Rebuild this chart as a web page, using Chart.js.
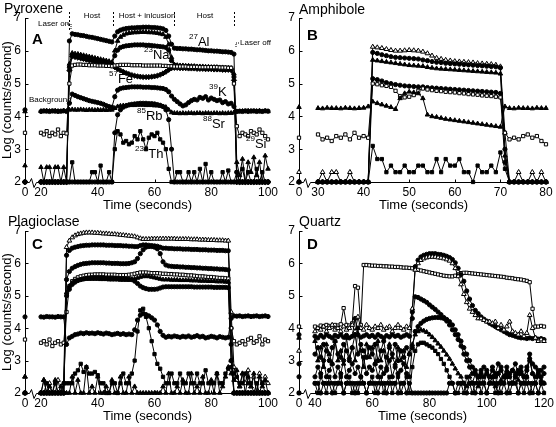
<!DOCTYPE html>
<html><head><meta charset="utf-8">
<script src="https://cdn.jsdelivr.net/npm/chart.js@4.4.1/dist/chart.umd.min.js"></script>
<style>
html,body{margin:0;padding:0;background:#fff;}
#wrap{position:relative;width:556px;height:427px;overflow:hidden;background:#fff;}
canvas{position:absolute;}
</style></head><body>
<div id="wrap">
<canvas id="cA" width="278" height="213" style="left:0;top:0;width:278px;height:213px"></canvas>
<canvas id="cB" width="278" height="213" style="left:278px;top:0;width:278px;height:213px"></canvas>
<canvas id="cC" width="278" height="214" style="left:0;top:213px;width:278px;height:214px"></canvas>
<canvas id="cD" width="278" height="214" style="left:278px;top:213px;width:278px;height:214px"></canvas>
</div>
<script>
// ---------- Panel A: Pyroxene ----------
const timesA = [0,20,21,22,23,24,25,26,27,28,29,30,31,32,33,34,35,36,37,38,39,40,41,42,43,44,45,46,47,48,49,50,51,52,53,54,55,56,57,58,59,60,61,62,63,64,65,66,67,68,69,70,71,72,73,74,75,76,77,78,79,80,81,82,83,84,85,86,87,88,89,90,91,92,93,94,95,96,97,98,99,100];
const ticksA = [20,40,60,80,100];
const A_Al = [2,
 2,2,2,2,2,2,2,2,2,2,
 6.3,6.52,6.5,6.49,6.47,6.46,6.44,6.42,6.41,6.39,
 6.37,6.35,6.33,6.31,6.29,6.27,6.45,6.58,6.63,6.66,
 6.68,6.69,6.7,6.7,6.71,6.71,6.72,6.72,6.72,6.71,
 6.71,6.7,6.69,6.67,6.62,6.45,6.2,6.08,6.07,6.07,
 6.06,6.06,6.05,6.05,6.04,6.03,6.03,6.02,6.01,6,
 6,5.99,5.99,5.98,5.97,5.97,5.96,5.95,5.9,2.3,
 2,2,2,2,2,2,2,2,2,2,
 2];
const A_Na2 = [2.5,
 2.45,2,2.45,2.45,2,2.45,2.45,2,2.45,2,
 5.6,5.93,5.91,5.9,5.88,5.86,5.84,5.82,5.8,5.78,
 5.76,5.74,5.72,5.7,5.68,5.65,6,6.3,6.42,6.48,
 6.52,6.54,6.55,6.56,6.56,6.57,6.57,6.57,6.56,6.56,
 6.55,6.54,6.52,6.5,6.42,6.2,5.8,5.58,5.56,5.55,
 5.55,5.54,5.54,5.53,5.53,5.52,5.52,5.52,5.51,5.51,
 5.5,5.5,5.5,5.49,5.49,5.48,5.48,5.47,5.3,2.6,
 2.2,2.7,2,2.6,2.3,2.75,2.2,2.6,2,2.8,
 2.4];
const A_Na = [2,
 2,2,2,2,2,2,2,2,2,2,
 5.5,5.88,5.86,5.85,5.83,5.81,5.79,5.77,5.75,5.73,
 5.71,5.69,5.67,5.65,5.63,5.6,5.85,6.02,6.1,6.13,
 6.15,6.16,6.17,6.18,6.18,6.18,6.18,6.17,6.17,6.16,
 6.15,6.14,6.13,6.12,6.1,6.02,5.7,5.56,5.54,5.53,
 5.53,5.52,5.52,5.51,5.51,5.5,5.5,5.5,5.49,5.49,
 5.48,5.48,5.47,5.47,5.46,5.46,5.45,5.45,5.2,2,
 2,2,2,2,2,2,2,2,2,2,
 2];
const A_Fe = [2,
 2,2,2,2,2,2,2,2,2,2,
 5.4,5.83,5.81,5.79,5.77,5.75,5.73,5.71,5.69,5.67,
 5.65,5.63,5.61,5.59,5.57,5.55,5.5,5.45,5.4,5.36,
 5.32,5.29,5.26,5.24,5.22,5.21,5.2,5.2,5.2,5.21,
 5.22,5.24,5.27,5.31,5.36,5.42,5.47,5.48,5.48,5.47,
 5.47,5.47,5.46,5.46,5.46,5.45,5.45,5.45,5.44,5.44,
 5.44,5.43,5.43,5.43,5.42,5.42,5.42,5.41,5.1,2,
 2,2,2,2,2,2,2,2,2,2,
 2];
const A_Si = [3.5,
 3.5,3.45,3.55,3.4,3.5,3.45,3.6,3.4,3.5,3.48,
 5,5.55,5.57,5.58,5.58,5.57,5.57,5.56,5.56,5.56,
 5.55,5.55,5.55,5.54,5.54,5.53,5.55,5.56,5.57,5.57,
 5.57,5.57,5.56,5.56,5.56,5.56,5.55,5.55,5.55,5.55,
 5.55,5.55,5.55,5.54,5.54,5.53,5.53,5.52,5.52,5.52,
 5.52,5.52,5.51,5.51,5.51,5.51,5.5,5.5,5.5,5.5,
 5.5,5.5,5.5,5.49,5.49,5.49,5.48,5.48,5,3.7,
 3.4,3.5,3.45,3.4,3.55,3.5,3.45,3.6,3.5,3.4,
 3.3];
const A_K = [4.2,
 4.15,4.17,4.16,4.15,4.17,4.16,4.15,4.16,4.17,4.15,
 4.4,4.68,4.64,4.6,4.57,4.54,4.51,4.48,4.46,4.44,
 4.42,4.4,4.37,4.33,4.3,4.28,4.6,4.8,4.85,4.87,
 4.88,4.89,4.9,4.9,4.9,4.9,4.89,4.89,4.89,4.88,
 4.88,4.87,4.86,4.85,4.82,4.75,4.62,4.52,4.45,4.38,
 4.32,4.35,4.42,4.48,4.52,4.5,4.58,4.55,4.6,4.5,
 4.56,4.52,4.48,4.5,4.42,4.45,4.38,4.4,4.3,4.15,
 4.16,4.15,4.17,4.15,4.16,4.17,4.15,4.16,4.15,4.17,
 4.16];
const A_Sr = [4.15,
 4.16,4.15,4.17,4.16,4.15,4.17,4.16,4.15,4.17,4.16,
 4.2,4.21,4.2,4.2,4.21,4.2,4.19,4.2,4.2,4.19,
 4.2,4.19,4.2,4.19,4.2,4.2,4.25,4.3,4.32,4.33,
 4.33,4.34,4.34,4.34,4.35,4.35,4.35,4.34,4.34,4.34,
 4.33,4.33,4.32,4.3,4.28,4.2,4.12,4.1,4.1,4.09,
 4.1,4.09,4.1,4.1,4.09,4.1,4.1,4.09,4.1,4.1,
 4.09,4.1,4.1,4.09,4.1,4.09,4.1,4.1,4.12,4.15,
 4.15,4.16,4.15,4.17,4.16,4.15,4.16,4.17,4.15,4.16,
 4.15];
const A_Rb = [2,
 2,2,2,2,2,2,2,2,2,2,
 2,2,2,2,2,2,2,2,2,2,
 2,2,2,2,2,2,3.5,4.05,4.2,4.28,
 4.32,4.35,4.37,4.38,4.39,4.4,4.4,4.4,4.39,4.39,
 4.38,4.36,4.34,4.3,4.2,3.9,3,2,2,2,
 2,2,2,2,2,2,2,2,2,2,
 2,2,2,2,2,2,2,2,2,2,
 2,2,2,2,2,2,2,2,2,2,
 2];
const A_Th = [2,
 2,2,2,2,2,2,2,2,2,2,
 2,2.6,2,2,2,2,2,2,2.3,2.3,
 2,2.5,2,2,2.3,2,3,3.55,3.45,3.2,
 3.25,3.15,3.2,3.4,3.3,3.55,3.3,3,3.35,3.45,
 3.4,3.5,3.3,3.2,3,2.4,2,2,2.3,2.3,
 2,2,2.3,2,2.3,2,2.4,2,2.55,2,
 2.3,2,2,2,2.3,2,2.35,2,2,2.3,
 2,2.4,2,2.3,2,2,2.4,2,2.3,2,
 2];

// ---------- Panel B: Amphibole ----------
const timesB = [0,30,31,32,33,34,35,36,37,38,39,40,41,42,43,44,45,46,47,48,49,50,51,52,53,54,55,56,57,58,59,60,61,62,63,64,65,66,67,68,69,70,71,72,73,74,75,76,77,78,79,80];
const ticksB = [30,40,50,60,70,80];
const B_top = [2.3,
 2,2.3,2,2.3,2.3,2,2,2.3,2,2,
 2,2,6.12,6.1,6.08,6.05,6.02,6,6,6.01,
 6.02,6.01,6,5.97,5.92,5.85,5.78,5.75,5.72,5.7,
 5.68,5.67,5.66,5.65,5.64,5.62,5.61,5.6,5.59,5.57,
 5.52,3.5,2,2,2.3,2,2,2.3,2,2.3,
 2];
const B_2 = [2,
 2,2,2,2,2,2,2,2,2,2,
 2,2,5.95,5.92,5.88,5.85,5.82,5.8,5.79,5.78,
 5.77,5.76,5.75,5.72,5.7,5.67,5.65,5.64,5.62,5.61,
 5.6,5.59,5.58,5.57,5.56,5.55,5.54,5.53,5.52,5.51,
 5.48,3,2,2,2,2,2,2,2,2,
 2];
const B_3 = [2,
 2,2,2,2,2,2,2,2,2,2,
 2,2,5.72,5.7,5.68,5.66,5.64,5.62,5.6,5.58,
 5.56,5.55,5.54,5.53,5.5,5.48,5.46,5.45,5.44,5.43,
 5.42,5.41,5.4,5.39,5.38,5.37,5.36,5.35,5.34,5.33,
 5.3,2.8,2,2,2,2,2,2,2,2,
 2];
const B_4 = [2,
 2,2,2,2,2,2,2,2,2,2,
 2,2,5.15,5.12,5.08,5.03,5,4.97,4.95,4.93,
 4.92,4.91,4.9,4.9,4.88,4.87,4.86,4.85,4.84,4.83,
 4.82,4.81,4.8,4.79,4.78,4.77,4.76,4.75,4.74,4.73,
 4.7,2.6,2,2,2,2,2,2,2,2,
 2];
const B_sq = [3.35,
 3.45,3.3,3.35,3.25,3.4,3.35,3.45,3.3,3.5,3.35,
 3.4,3.35,5,4.98,4.95,4.93,4.9,4.78,4.62,4.58,
 4.6,4.65,4.78,4.85,4.82,4.8,4.78,4.77,4.75,4.74,
 4.73,4.71,4.7,4.68,4.67,4.66,4.64,4.63,4.62,4.6,
 4.58,3.5,3.3,3.35,3.3,3.4,3.45,3.35,3.4,3.25,
 3.15];
const B_K = [4.28,
 4.25,4.24,4.26,4.25,4.25,4.24,4.26,4.25,4.24,4.25,
 4.26,4.3,4.45,4.4,4.36,4.32,4.28,4.22,4.55,4.7,
 4.75,4.73,4.7,4.55,4.05,4,3.98,3.95,3.92,3.9,
 3.88,3.86,3.84,3.82,3.8,3.78,3.76,3.74,3.72,3.7,
 3.68,4.3,4.25,4.24,4.26,4.25,4.25,4.24,4.26,4.25,
 4.25];
const B_Th = [2,
 2,2,2,2,2,2,2,2,2,2,
 2,2,3.1,2.7,2.7,2.3,2.5,2.3,2.3,2.5,
 2.3,2.3,2.5,2.5,2.3,2.3,2.7,2.3,2.7,2.5,
 2.5,2.7,2.3,2.3,2,2.5,2.3,2.3,2.5,2.3,
 2.9,2.4,2,2,2,2,2,2,2,2,
 2];

// ---------- Panel C: Plagioclase ----------
const timesC = [0,20,21,22,23,24,25,26,27,28,29,30,31,32,33,34,35,36,37,38,39,40,41,42,43,44,45,46,47,48,49,50,51,52,53,54,55,56,57,58,59,60,61,62,63,64,65,66,67,68,69,70,71,72,73,74,75,76,77,78,79,80,81,82,83,84,85,86,87,88,89,90,91,92,93,94,95,96,97,98,99,100];
const ticksC = [20,40,60,80,100];
const C_top = [2.5,
 2,2.4,2,2.3,2,2,2.4,2,2.3,6.5,
 6.7,6.8,6.86,6.9,6.92,6.94,6.95,6.95,6.95,6.94,
 6.94,6.93,6.92,6.92,6.91,6.9,6.9,6.89,6.88,6.87,
 6.86,6.85,6.84,6.83,6.8,6.77,6.75,6.75,6.75,6.76,
 6.76,6.76,6.76,6.76,6.76,6.76,6.76,6.76,6.75,6.75,
 6.75,6.75,6.75,6.74,6.74,6.74,6.73,6.73,6.73,6.72,
 6.72,6.72,6.71,6.71,6.71,6.7,6.7,4.5,2.8,2.4,
 2.2,2.6,2.3,2.7,2.2,2.5,2,2.6,2.3,2.5,
 2.3];
const C_2 = [2,
 2,2,2,2,2,2,2,2,2,6.25,
 6.4,6.47,6.5,6.52,6.54,6.55,6.56,6.56,6.57,6.57,
 6.57,6.57,6.57,6.56,6.56,6.56,6.55,6.55,6.55,6.54,
 6.54,6.53,6.53,6.52,6.52,6.55,6.57,6.57,6.56,6.55,
 6.54,6.53,6.5,6.47,6.47,6.46,6.46,6.45,6.45,6.45,
 6.44,6.44,6.44,6.43,6.43,6.43,6.42,6.42,6.42,6.41,
 6.41,6.41,6.4,6.4,6.4,6.39,6.39,4,2,2,
 2,2,2,2,2,2,2,2,2,2,
 2];
const C_3 = [2,
 2,2,2,2,2,2,2,2,2,5.5,
 5.75,5.85,5.9,5.94,5.97,5.99,6,6.01,6.02,6.02,
 6.02,6.02,6.02,6.01,6.01,6,6,6,5.99,5.99,
 5.99,6,6.02,6.05,6.15,6.3,6.42,6.5,6.52,6.52,
 6.5,6.45,6.3,6.05,5.95,5.92,5.91,5.9,5.9,5.89,
 5.89,5.88,5.88,5.87,5.87,5.86,5.86,5.85,5.85,5.84,
 5.84,5.83,5.83,5.82,5.82,5.81,5.8,3.5,2,2,
 2,2,2,2,2,2,2,2,2,2,
 2];
const C_sq = [3.65,
 3.55,3.6,3.5,3.65,3.45,3.55,3.6,3.5,3.55,4.5,
 5.3,5.45,5.52,5.57,5.6,5.62,5.64,5.65,5.65,5.66,
 5.66,5.66,5.66,5.65,5.65,5.65,5.65,5.64,5.64,5.64,
 5.64,5.65,5.66,5.68,5.7,5.72,5.72,5.72,5.71,5.7,
 5.7,5.7,5.69,5.68,5.68,5.67,5.67,5.66,5.66,5.65,
 5.65,5.64,5.63,5.63,5.62,5.61,5.6,5.6,5.59,5.58,
 5.58,5.57,5.56,5.55,5.55,5.54,5.53,4,3.6,3.5,
 3.55,3.6,3.5,3.65,3.7,3.55,3.6,3.75,3.5,3.65,
 3.6];
const C_5 = [2,
 2,2,2,2,2,2,2,2,2,5,
 5.2,5.35,5.42,5.47,5.5,5.52,5.54,5.55,5.56,5.56,
 5.56,5.56,5.56,5.55,5.55,5.55,5.54,5.54,5.53,5.53,
 5.52,5.51,5.5,5.45,5.38,5.3,5.25,5.22,5.2,5.2,
 5.2,5.21,5.24,5.27,5.28,5.28,5.28,5.28,5.28,5.28,
 5.28,5.28,5.28,5.28,5.27,5.27,5.27,5.27,5.27,5.27,
 5.27,5.26,5.26,5.26,5.26,5.26,5.25,3,2,2,
 2,2,2,2,2,2,2,2,2,2,
 2];
const C_6 = [2,
 2,2,2,2,2,2,2,2,2,5.1,
 5.3,5.4,5.45,5.48,5.5,5.51,5.52,5.52,5.52,5.52,
 5.52,5.51,5.51,5.51,5.5,5.5,5.5,5.5,5.49,5.49,
 5.49,5.49,5.5,5.52,5.55,5.58,5.6,5.6,5.6,5.58,
 5.56,5.54,5.52,5.5,5.5,5.5,5.49,5.49,5.49,5.48,
 5.48,5.48,5.48,5.47,5.47,5.47,5.46,5.46,5.46,5.45,
 5.45,5.45,5.44,5.44,5.44,5.43,5.43,3,2,2,
 2,2,2,2,2,2,2,2,2,2,
 2];
const C_bg = [4.35,
 4.35,4.34,4.36,4.35,4.35,4.34,4.36,4.35,4.35,3.5,
 3.7,3.75,3.8,3.82,3.85,3.83,3.86,3.84,3.85,3.83,
 3.86,3.84,3.82,3.85,3.83,3.8,3.82,3.84,3.81,3.83,
 3.8,3.82,3.8,3.95,4.25,4.4,4.45,4.42,4.38,4.32,
 4.25,4.1,3.9,3.78,3.72,3.75,3.73,3.76,3.74,3.72,
 3.75,3.73,3.76,3.72,3.74,3.77,3.73,3.75,3.7,3.72,
 3.75,3.73,3.7,3.74,3.72,3.7,3.72,4.3,4.38,4.37,
 4.38,4.36,4.37,4.38,4.36,4.37,4.38,4.36,4.37,4.38,
 4.36];
const C_peak = [2,
 2,2,2.3,2,2,2.3,2,2,2.3,2.3,
 2.3,2.3,2.6,2.7,2.9,2.65,2.8,2.6,2.6,2.65,
 2.55,2.3,2.3,2,2,2.3,2.3,2,2.3,2.6,
 2.3,2.3,2.6,3,3.9,4.55,4.6,4.35,4,3.6,
 3.2,2.9,2.75,2.5,2.3,2.3,2.6,2.3,2.3,2.6,
 2.3,2.3,2.6,2.3,2.3,2.6,2.3,2.3,2.7,2.3,
 2.3,2.3,2.6,2.3,2.3,2.6,2.75,2.8,2.6,2.5,
 2.3,2.3,2.6,2.3,2.3,2,2.3,2,2.3,2,
 2];
const C_low = [2.5,
 2,2.4,2,2.2,2,2.4,2,2.2,2,2,
 2,2.5,2,2.4,2,2,2.8,2,2.2,2,
 2.5,2,2,2.2,2,2.4,2,2,2.5,2,
 2,2.5,2,2.2,2,2,2,2,2,2,
 2,2,2,2.2,2,2.6,2,2,2.2,2,
 2.4,2,2,2.6,2,2.2,2,2.5,2,2,
 2.4,2,2.6,2,2.2,2.5,2.8,2.6,2.4,2.7,
 2.2,2.6,2,2.5,2.2,2.6,2,2.5,2.2,2.4,
 2];

// ---------- Panel D: Quartz ----------
const timesD = [0,40,41,42,43,44,45,46,47,48,49,50,51,52,53,54,55,56,57,58,59,60,61,62,63,64,65,66,67,68,69,70,71,72,73,74,75,76,77,78,79,80,81,82,83,84,85,86,87,88,89,90,91,92,93,94,95,96,97,98,99,100,101,102,103,104,105,106,107,108,109,110,111,112,113,114,115,116,117,118,119,120];
const ticksD = [40,60,80,100,120];
const D_Si = [4.05,
 4.05,4,4.08,4.05,4.1,4.07,4.05,4.1,4.08,4.12,
 4.62,4.1,4.08,4.15,5.3,5.25,4.1,5.95,5.95,5.94,
 5.93,5.93,5.92,5.92,5.91,5.91,5.9,5.9,5.89,5.89,
 5.88,5.87,5.87,5.86,5.85,5.82,5.8,5.78,5.76,5.74,
 5.72,5.7,5.68,5.66,5.64,5.62,5.61,5.6,5.6,5.62,
 5.66,5.7,5.71,5.71,5.7,5.69,5.68,5.67,5.66,5.65,
 5.64,5.63,5.62,5.61,5.6,5.59,5.58,5.56,5.55,5.54,
 5.52,5.51,5.5,5.48,5.46,5.42,4.6,4.05,4.05,4.07,
 4.05];
const D_pk1 = [3.8,
 3.75,3.7,3.78,3.72,3.8,3.75,3.7,3.78,3.74,3.8,
 3.72,3.78,3.7,3.75,4.3,3.8,3.72,3.76,3.8,3.74,
 3.78,3.72,3.8,3.75,3.7,3.77,3.73,3.8,3.75,3.78,
 3.72,3.76,3.8,3.75,4.5,5.9,6.1,6.2,6.25,6.28,
 6.3,6.3,6.3,6.28,6.27,6.25,6.22,6.18,6.12,6.02,
 5.85,5.65,5.45,5.15,4.9,4.7,4.55,4.45,4.35,4.28,
 4.22,4.15,4.1,4.05,4,3.95,3.9,3.85,3.8,3.78,
 3.75,3.72,3.7,3.7,3.68,3.7,3.68,3.7,3.66,3.68,
 3.65];
const D_pk2 = [3.3,
 3.9,4,3.95,4.05,3.9,4,4.1,3.95,4,3.9,
 4.05,3.95,4,4.1,3.9,4.35,4,3.95,4.1,4,
 3.95,4.05,4,4.1,3.95,4,4.05,3.9,4,4.1,
 4,3.95,4.05,4,4.6,5.8,6,6.1,6.15,6.18,
 6.2,6.2,6.2,6.18,6.17,6.15,6.12,6.08,6,5.85,
 5.6,5.35,5.05,4.8,4.6,4.5,4.4,4.3,4.3,4.25,
 4.2,4.2,4.15,4.2,4,4.1,3.95,4.05,4.2,3.9,
 3.85,3.8,3.9,3.75,3.85,4.4,4,3.7,3.6,3.65,
 3.6];
const D_5 = [2.9,
 3.2,3.4,3.1,3.5,3.3,3,3.4,3.6,3.2,3.1,
 3.5,3.3,3,3.4,3.8,3.2,3.5,3.3,3.1,3.4,
 3.2,3.5,3,3.3,3.6,3.1,3.4,3.2,3.5,3,
 3.3,3.1,3.4,3.2,4.3,4.97,4.95,4.9,4.85,4.8,
 4.72,4.65,4.58,4.5,4.42,4.33,4.22,4.1,3.95,3.8,
 3.65,3.45,3.2,3,2.8,2.6,2.7,2.5,2.6,2.8,
 2.7,2.5,2.8,2.6,2.9,2.7,2.5,2.8,2.6,2.7,
 2.9,2.6,2.8,2.5,2.7,3.2,2.9,2.8,2.6,2.7,
 2.8];
const D_6 = [2.5,
 2.5,2.8,2.6,3,2.5,2.7,2.9,2.5,2.8,2.6,
 3,2.5,2.7,2.9,2.6,2.8,2.5,3.1,2.6,2.8,
 2.7,2.9,2.5,2.8,2.6,2.7,3,2.5,2.8,2.6,
 2.7,2.9,2.6,2.5,3.4,3.9,4.05,4.15,4.22,4.27,
 4.3,4.32,4.33,4.33,4.32,4.3,4.27,4.2,4.1,3.95,
 3.8,3.6,3.4,3.2,3,2.8,2.6,2.5,2.7,2.5,
 2.6,2.5,2.7,2.5,2.6,2.8,2.5,2.6,2.5,2.7,
 2.5,2.7,2.6,2.5,2.8,3,2.6,2.5,2.7,2.5,
 2.6];
const D_7 = [3.7,
 3.6,3,3.4,2.8,3.5,3.2,2.9,3.6,3,3.3,
 2.9,3.7,3.1,3.4,3,4,3.3,2.8,3.5,3.1,
 3.4,2.9,3.6,3,3.3,2.8,3.5,3.1,2.9,3.4,
 3,3.3,2.8,3.2,3.5,3.8,3.9,3.95,3.92,3.88,
 3.8,3.72,3.62,3.52,3.42,3.3,3.18,3.05,2.9,2.75,
 2.6,2.5,2.3,2.2,2.5,2.3,2.6,2.2,2.5,2.3,
 2.6,2.3,2.5,2.2,2.6,2.4,2.3,2.7,2.5,2.3,
 2.6,2.4,2.7,2.3,2.5,3.1,2.6,2.3,2.5,2.4,
 2.3];
const D_8 = [2,
 2.3,2,2.5,2.3,2,2.5,2.3,2,2.3,2.5,
 2,2.3,2.5,2,2.3,2,2.5,2.3,2,2.3,
 2.5,2,2.3,2.5,2,2.3,2.5,2,2.3,2.5,
 2,2.3,2.5,2,2.8,3.3,3.5,3.55,3.55,3.5,
 3.45,3.4,3.3,3.2,3.05,2.9,2.7,2.5,2.3,2,
 2,2.3,2,2.5,2.3,2,2.3,2.5,2,2.3,
 2,2.3,2.5,2,2.3,2,2.3,2.5,2,2.3,
 2.5,2,2.3,2,2.5,2.3,2,2.3,2,2.3,
 2];
const D_low = [2,
 2.3,2.3,2,2.3,2.3,2.3,2,2.3,2.3,2.3,
 2,2.3,2.3,2.3,2,2.3,2.3,2.3,2,2.3,
 2.3,2.3,2,2.3,2.3,2,2.3,2.3,2.3,2,
 2.3,2.3,2,2.3,2,2,2,2,2,2,
 2,2,2,2,2,2,2,2.3,2.3,2,
 2.3,2.3,2.3,2,2.3,2.3,2,2.3,2.3,2.3,
 2,2.3,2.3,2.3,2,2.3,2.3,2,2.3,2.3,
 2.3,2,2.3,2.3,2.3,2,2.3,2.3,2,2.3,
 2.3];

// ---------- rendering ----------
const FAM = "'Liberation Sans', Arial, Helvetica, sans-serif";
Chart.defaults.font.family = FAM;
Chart.defaults.color = '#000';

const MK = {
  fc:{pointStyle:'circle', pointRadius:2.1, pointBackgroundColor:'#000'},
  os:{pointStyle:'rect', pointRadius:2.3, pointBackgroundColor:'#fff'},
  fs:{pointStyle:'rect', pointRadius:2.3, pointBackgroundColor:'#000'},
  ft:{pointStyle:'triangle', pointRadius:2.6, pointBackgroundColor:'#000'},
  ot:{pointStyle:'triangle', pointRadius:2.7, pointBackgroundColor:'#fff'},
  fd:{pointStyle:'rectRot', pointRadius:2.6, pointBackgroundColor:'#000'}
};
function makeDs(times, vals, origin, mk){
  const data = [];
  times.forEach((t,i)=>{
    if (t === 0) { data.push({x:origin, y:vals[i]}); data.push({x:origin+0.5, y:null}); }
    else data.push({x:t, y:vals[i]});
  });
  return Object.assign({data, borderColor:'#000', borderWidth:1, pointBorderColor:'#000',
    pointBorderWidth:1, pointHoverRadius:0, clip:6, tension:0, spanGaps:false}, MK[mk]);
}

function iso(ctx, m, s, x, y){
  ctx.font = '8px ' + FAM; ctx.fillText(m, x, y-5);
  const w = ctx.measureText(m).width;
  ctx.font = '13px ' + FAM; ctx.fillText(s, x+w, y);
}
function annA(ctx, chart){
  const xs = chart.scales.x;
  ctx.font = '8px ' + FAM;
  ctx.textAlign = 'center';
  ctx.fillText('Host', 92, 16);
  ctx.fillText('Host + inlcusion', 147, 16);
  ctx.fillText('Host', 205, 16);
  ctx.textAlign = 'left';
  ctx.fillText('Laser on', 38, 24);
  ctx.fillText('Laser off', 240, 43);
  ctx.fillText('Background', 29, 100);
  ctx.setLineDash([2,2]);
  ctx.beginPath();
  [[29.9,30],[45.3,26],[66.7,26],[88,26]].forEach(([t,b])=>{
    const px = Math.round(xs.getPixelForValue(t))+0.5; ctx.moveTo(px, 12); ctx.lineTo(px, b);
  });
  ctx.stroke();
  ctx.setLineDash([1,1]);
  ctx.beginPath();
  ctx.moveTo(67,24); ctx.lineTo(71,24); ctx.lineTo(71,29);
  ctx.moveTo(239,43); ctx.lineTo(236,43); ctx.lineTo(236,48);
  ctx.moveTo(68,100); ctx.lineTo(72,103);
  ctx.stroke();
  ctx.setLineDash([]);
  iso(ctx,'27','Al',189,42);
  iso(ctx,'23','Na',144,55);
  iso(ctx,'57','Fe',109,79);
  iso(ctx,'39','K',209,92);
  iso(ctx,'85','Rb',137,116);
  iso(ctx,'88','Sr',203,124);
  iso(ctx,'232','Th',135,154);
  iso(ctx,'29','Si',246,144);
}

const DECO = {
  cA:{title:'Pyroxene', tx:4, ty:9, letter:'A', lx:32, ly:40, extra:annA},
  cB:{title:'Amphibole', tx:21, ty:10, letter:'B', lx:29, ly:36},
  cC:{title:'Plagioclase', tx:8, ty:9, letter:'C', lx:32, ly:32},
  cD:{title:'Quartz', tx:21, ty:9, letter:'D', lx:29, ly:32}
};
const deco = {
  id:'deco',
  afterDraw(chart){
    const d = DECO[chart.canvas.id];
    const {ctx, chartArea:ca, scales:{x, y}} = chart;
    ctx.save();
    ctx.strokeStyle = '#000'; ctx.fillStyle = '#000'; ctx.lineWidth = 1;
    const yb = Math.round(y.getPixelForValue(2)) + 0.5;
    const L = Math.round(ca.left) + 0.5;
    ctx.beginPath();
    ctx.moveTo(L, yb); ctx.lineTo(L+4, yb); ctx.lineTo(L+6, yb-4); ctx.lineTo(L+8.5, yb+5); ctx.lineTo(L+11, yb); ctx.lineTo(ca.right, yb);
    x.ticks.forEach(t=>{ if (t.value === x.min) return; const px = Math.round(x.getPixelForValue(t.value))+0.5; ctx.moveTo(px, yb); ctx.lineTo(px, yb-3); });
    y.ticks.forEach(t=>{ const py = Math.round(y.getPixelForValue(t.value))+0.5; ctx.moveTo(L, py); ctx.lineTo(L+3, py); });
    ctx.stroke();
    ctx.textBaseline = 'middle'; ctx.textAlign = 'left';
    ctx.font = '14px ' + FAM; ctx.fillText(d.title, d.tx, d.ty);
    ctx.font = 'bold 15px ' + FAM; ctx.fillText(d.letter, d.lx, d.ly);
    if (d.extra) d.extra(ctx, chart);
    ctx.restore();
  }
};

function panel(id, P){
  new Chart(document.getElementById(id), {
    type:'line',
    data:{datasets: P.series.map(s => makeDs(P.times, s[0], P.xmin, s[1]))},
    options:{
      responsive:false, animation:false, devicePixelRatio:1, events:[],
      layout:{padding:P.pad},
      plugins:{legend:{display:false}, tooltip:{enabled:false}},
      scales:{
        x:{type:'linear', min:P.xmin, max:P.xmax,
          afterBuildTicks: s => { s.ticks = [P.xmin].concat(P.ticks).map(v=>({value:v})); },
          ticks:{autoSkip:false, maxRotation:0, color:'#000', font:{size:12}, padding:3,
            callback: v => (v === P.xmin ? '0' : String(v))},
          grid:{display:false, drawTicks:false}, border:{display:false},
          title:{display:true, text:'Time (seconds)', color:'#000', font:{size:13}, padding:{top:2, bottom:0}},
          afterFit: s => { s.height = 31; s.paddingLeft = 0; s.paddingRight = 0; }
        },
        y:{min:2, max:7,
          ticks:{stepSize:1, color:'#000', font:{size:12}, padding:4},
          grid:{display:false, drawTicks:false}, border:{display:true, color:'#000', width:1},
          title:{display:P.ytitle, text:'Log (counts/second)', color:'#000', font:{size:13}, padding:0},
          afterFit: s => { s.width = P.yw; s.paddingTop = 0; s.paddingBottom = 0; }
        }
      }
    },
    plugins:[deco]
  });
}

panel('cA', {times:timesA, ticks:ticksA, xmin:14.36, xmax:100.7, yw:25, ytitle:true,
  pad:{top:18, right:8, bottom:0, left:0},
  series:[[A_Th,'fs'],[A_Rb,'fc'],[A_Sr,'ft'],[A_K,'fc'],[A_Si,'os'],[A_Fe,'fd'],[A_Na,'fc'],[A_Na2,'ft'],[A_Al,'fc']]});
panel('cB', {times:timesB, ticks:ticksB, xmin:25.83, xmax:80.44, yw:21, ytitle:false,
  pad:{top:18, right:8, bottom:0, left:0},
  series:[[B_Th,'fs'],[B_K,'ft'],[B_sq,'os'],[B_4,'fc'],[B_3,'ft'],[B_2,'fc'],[B_top,'ot']]});
panel('cC', {times:timesC, ticks:ticksC, xmin:14.36, xmax:100.7, yw:25, ytitle:true,
  pad:{top:18, right:8, bottom:3, left:0},
  series:[[C_low,'ft'],[C_peak,'fs'],[C_bg,'fc'],[C_6,'ft'],[C_5,'fc'],[C_sq,'os'],[C_3,'fc'],[C_2,'fc'],[C_top,'ot']]});
panel('cD', {times:timesD, ticks:ticksD, xmin:34.41, xmax:120.7, yw:21, ytitle:false,
  pad:{top:18, right:10, bottom:3, left:0},
  series:[[D_low,'fc'],[D_8,'fs'],[D_7,'ft'],[D_6,'fc'],[D_5,'fc'],[D_pk2,'ot'],[D_pk1,'fc'],[D_Si,'os']]});
</script>
</body></html>
